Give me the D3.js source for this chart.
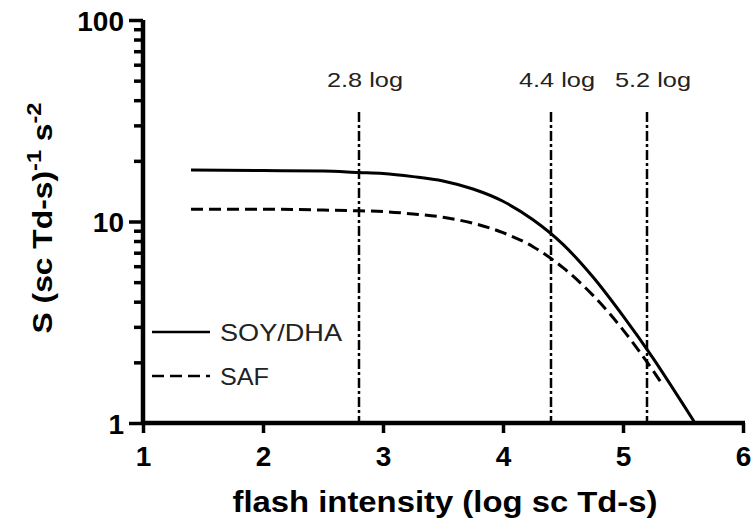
<!DOCTYPE html>
<html>
<head>
<meta charset="utf-8">
<script src="https://cdn.jsdelivr.net/npm/d3@7"></script>
<style>
  body { margin: 0; background: #fff; }
  svg { font-family: "Liberation Sans", Arial, sans-serif; }
</style>
</head>
<body>
<div id="chart"></div>
<script>
// values
const soyX = [1.4, 2.0, 2.5, 2.8, 3.0, 3.25, 3.5, 3.75, 4.0, 4.25, 4.5, 4.75, 5.0, 5.25, 5.5, 5.6];
const soyY = [18.0, 17.9, 17.8, 17.5, 17.3, 16.7, 15.9, 14.5, 12.6, 10.2, 7.7, 5.3, 3.4, 2.1, 1.24, 1.0];
const safX = [1.4, 2.0, 2.5, 2.8, 3.0, 3.25, 3.5, 3.75, 4.0, 4.25, 4.5, 4.75, 5.0, 5.25, 5.33];
const safY = [11.5, 11.5, 11.4, 11.3, 11.2, 10.9, 10.5, 9.8, 8.8, 7.5, 5.9, 4.3, 2.9, 1.82, 1.55];
const markers = [2.8, 4.4, 5.2];
const markerLabels = ["2.8 log", "4.4 log", "5.2 log"];
const xTicks = [1, 2, 3, 4, 5, 6];
const yTicks = [1, 10, 100];

const W = 753, H = 522;
const margin = { top: 20, right: 10, bottom: 99, left: 143 };

const svg = d3.select("#chart").append("svg")
    .attr("width", W)
    .attr("height", H);

const x = d3.scaleLinear()
    .domain([1, 6])
    .range([margin.left, 743]);

const y = d3.scaleLog()
    .domain([1, 100])
    .range([H - margin.bottom, margin.top]);

// the source picture is a bit wider than the font; stretch text to fit
function stretch(sel, w) {
    sel.attr("textLength", w).attr("lengthAdjust", "spacingAndGlyphs");
}

// vertical dash-dot markers
svg.selectAll(".marker")
    .data(markers)
    .enter()
    .append("line")
    .attr("class", "marker")
    .attr("x1", d => x(d))
    .attr("x2", d => x(d))
    .attr("y1", 112)
    .attr("y2", y(1))
    .attr("stroke", "#000")
    .attr("stroke-width", 2.5)
    .attr("stroke-dasharray", "10,3,3,3");

svg.selectAll(".marker-label")
    .data(markers)
    .enter()
    .append("text")
    .attr("class", "marker-label")
    .attr("x", d => x(d) + 6)
    .attr("y", 87)
    .attr("text-anchor", "middle")
    .attr("font-size", 21)
    .attr("fill", "#222")
    .text((d, i) => markerLabels[i])
    .call(stretch, 76);

// curves
const line = d3.line()
    .x(d => x(d[0]))
    .y(d => y(d[1]))
    .curve(d3.curveMonotoneX);

svg.append("path")
    .datum(soyX.map((v, i) => [v, soyY[i]]))
    .attr("d", line)
    .attr("fill", "none")
    .attr("stroke", "#000")
    .attr("stroke-width", 3);

svg.append("path")
    .datum(safX.map((v, i) => [v, safY[i]]))
    .attr("d", line)
    .attr("fill", "none")
    .attr("stroke", "#000")
    .attr("stroke-width", 3)
    .attr("stroke-dasharray", "12,6");

// Y axis with minor ticks
const minor = [];
[1, 10].forEach(dec => { for (let k = 2; k <= 9; k++) minor.push(dec * k); });

const yAxis = svg.append("g")
    .attr("transform", `translate(${margin.left},0)`)
    .call(d3.axisLeft(y).tickValues(yTicks).tickFormat(d3.format("d")).tickSize(14).tickPadding(5));

svg.append("g")
    .attr("transform", `translate(${margin.left},0)`)
    .call(d3.axisLeft(y).tickValues(minor).tickFormat("").tickSize(9))
    .call(g => g.select(".domain").remove());

// X axis
const xAxis = svg.append("g")
    .attr("transform", `translate(0,${y(1)})`)
    .call(d3.axisBottom(x).tickValues(xTicks).tickFormat(d3.format("d")).tickSize(10).tickPadding(13));

svg.selectAll(".tick line").attr("stroke-width", 3.5);
svg.selectAll(".domain").attr("stroke-width", 4.5);
yAxis.select(".domain").attr("d", `M0,${margin.top}V${y(1)}`);
xAxis.select(".domain").attr("d", `M${margin.left},0H745`);

svg.selectAll(".tick text")
    .attr("font-size", 28)
    .attr("font-weight", "bold")
    .attr("fill", "#000")
    .style("font-family", "'Liberation Sans', Arial, sans-serif");
yAxis.selectAll(".tick text").attr("dy", "0.36em");

// axis labels
svg.append("text")
    .attr("text-anchor", "middle")
    .attr("x", 445)
    .attr("y", 512)
    .attr("font-size", 29)
    .attr("font-weight", "bold")
    .text("flash intensity (log sc Td-s)")
    .call(stretch, 425);

const yl = svg.append("text")
    .attr("text-anchor", "middle")
    .attr("transform", "translate(52,218) rotate(-90)")
    .attr("font-size", 27)
    .attr("font-weight", "bold");
yl.append("tspan").text("S (sc Td-s)");
yl.append("tspan").attr("dy", -11).attr("font-size", 20).text("-1");
yl.append("tspan").attr("dy", 11).text(" s");
yl.append("tspan").attr("dy", -11).attr("font-size", 20).text("-2");
// stretch along the text direction to the reference length
const ylw = yl.node().getBBox().width;
yl.attr("transform", `translate(52,218) rotate(-90) scale(${231 / ylw},1)`);

// legend
const legend = [
    { name: "SOY/DHA", dash: null, y: 332, w: 122 },
    { name: "SAF", dash: "12,6", y: 376, w: 49 }
];
const lg = svg.selectAll(".legend")
    .data(legend)
    .enter()
    .append("g")
    .attr("class", "legend")
    .attr("transform", d => `translate(152,${d.y})`);
lg.append("line")
    .attr("x1", 0).attr("x2", 58)
    .attr("stroke", "#000")
    .attr("stroke-width", 2.5)
    .attr("stroke-dasharray", d => d.dash);
lg.append("text")
    .attr("x", 68)
    .attr("dy", "0.36em")
    .attr("font-size", 24)
    .attr("fill", "#222")
    .text(d => d.name)
    .each(function (d) { stretch(d3.select(this), d.w); });
</script>
</body>
</html>
